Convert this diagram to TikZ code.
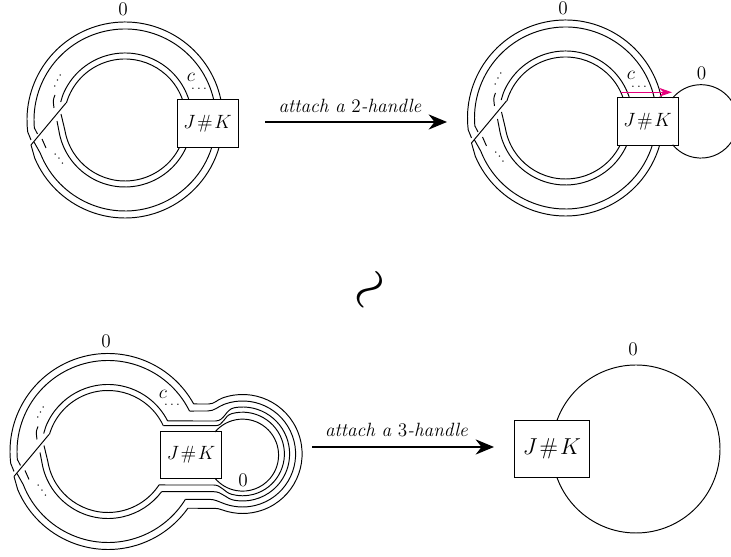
\documentclass[tikz,border=0pt]{standalone}
\usepackage{amsmath}
\usetikzlibrary{arrows.meta}

\tikzset{
  every node/.style={font=\large},
  jkbox/.style={draw,fill=white,inner sep=0pt,minimum width=38.1pt,minimum height=29.4pt},
  bigbox/.style={draw,fill=white,inner sep=0pt,minimum width=46.9pt,minimum height=35.6pt,font=\Large},
  move/.style={line width=.9pt,-{Stealth[length=11.5pt,width=9.5pt]}},
  tiny dots/.style={inner sep=0pt,font=\footnotesize}
}
\newcommand{\jk}{$J\mkern1.5mu\#\mkern1.5mu K$}

% the strands of the ring, seen from its centre
\newcommand{\ringstrands}[8]{
  \coordinate (u1) at (#1:98);
  \coordinate (u2) at (#2:91);
  \coordinate (u3) at (#3:67);
  \coordinate (u4) at (#4:61);
  \coordinate (cross1) at (-94,-25);
  \coordinate (cross2) at (-59,17);
  \draw (u1) arc[start angle=#1,end angle=187,radius=98] -- (-94,-20);
  \draw (u2) arc[start angle=#2,end angle=185,radius=91] -- (-87.5,-14);
  \draw (u3) arc[start angle=#3,end angle=158.1,radius=67] -- (-64.3,18);
  \draw (u4) arc[start angle=#4,end angle=163.8,radius=61];
  \draw (cross1) -- (203:98) arc[start angle=203,end angle=#5,radius=98] coordinate (l1);
  \draw (-91,-22) -- (201.3:91) arc[start angle=201.3,end angle=#6,radius=91] coordinate (l2);
  \draw (-68,-1) -- (192.9:67) arc[start angle=192.9,end angle=#7,radius=67] coordinate (l3);
  \draw (-64,6) -- (189.4:61) arc[start angle=189.4,end angle=#8,radius=61] coordinate (l4);
  \draw (cross1) -- (cross2);
  \draw (-70,25) .. controls (-72,20) .. (-71,12);
  \draw (-83,-19) -- (-79,-28);
  \node[tiny dots,rotate=63] (dotsu) at (-67.5,39) {$\ldots$};
  \node[tiny dots,rotate=-53] (dotsl) at (-66,-39) {$\ldots$};
}

\begin{document}
\begin{tikzpicture}
  [x=.625pt,y=.625pt,line width=.6pt]
  \clip (0,0) rectangle (731,557);

  % top left
  \begin{scope}[shift={(125,437)}]
    \ringstrands{11.8}{12.7}{17.4}{19.1}{344}{342.8}{336.3}{333.7}
  \end{scope}
  \node[jkbox] (boxa) at (207.5,433.5) {\jk};
  \node (c1) at (191,480) {$c$};
  \node[tiny dots] (dots1) at (199,468) {$\ldots$};
  \node (zero1) at (123,548) {$0$};

  % top right
  \begin{scope}[shift={(565.5,439)}]
    \ringstrands{11.8}{12.7}{17.4}{19.1}{344}{342.8}{336.3}{333.7}
  \end{scope}
  \node[jkbox] (boxb) at (647.5,435.5) {\jk};
  \draw (672.7,459) arc[start angle=140.4,end angle=-140.4,radius=36.7];
  \node (c2) at (631,482) {$c$};
  \node[tiny dots] (dots2) at (639,470) {$\ldots$};
  \node (zero2) at (563,549) {$0$};
  \node (zero3) at (701.5,484) {$0$};
  \coordinate (fra) at (621,464.7);
  \coordinate (frb) at (672,464.7);
  \draw[-{Stealth[length=8pt,width=5.5pt]},color={rgb,255:red,230;green,0;blue,125}] (fra) -- (frb);

  % bottom left
  \begin{scope}[shift={(108,105.5)}]
    \ringstrands{29}{26.4}{27.1}{25}{324.6}{328.3}{323.1}{326.7}
  \end{scope}
  \node[jkbox] (boxc) at (191,102) {\jk};
  \begin{scope}[shift={(242.6,103)}]
    \foreach \rr/\ang/\inn/\outt/\tx/\ty/\bx/\by/\n in {59.5/110/200/160/-34/50/-29/-54.3/1,
                                                         53/110/200/160/-35/43/-34/-45.3/2,
                                                         47/100/190/170/-27/33/-29/-37.7/3,
                                                         41.8/105/195/165/-27/28.3/-29/-31/4}
      \draw (u\n) -- (\tx,\ty) to[out=0,in=\inn] (\ang:\rr)
        arc[start angle=\ang,end angle=-\ang,radius=\rr] to[out=\outt,in=0] (\bx,\by) -- (l\n);
  \end{scope}
  \draw (215,125) arc[start angle=140,end angle=-140,radius=36];
  \node (c3) at (163,163) {$c$};
  \node[tiny dots] (dots3) at (172,152) {$\ldots$};
  \node (zero4) at (106,216) {$0$};
  \node (zero5) at (243,77) {$0$};

  % bottom right
  \node[circle,draw,minimum size=105pt,inner sep=0pt] (disc) at (636,108) {};
  \node[bigbox] (boxd) at (551.8,107.8) {\jk};
  \node (zero6) at (633,208) {$0$};

  % the moves
  \coordinate (ma) at (265,435);
  \coordinate (mb) at (447,435);
  \coordinate (mc) at (312,110);
  \coordinate (md) at (494,110);
  \draw[move] (ma) -- (mb);
  \draw[move] (mc) -- (md);
  \node (la) at (350,451) {\textit{attach a $2$-handle}};
  \node (lb) at (396.5,127) {\textit{attach a $3$-handle}};
  \node[rotate=52,scale=3.5,font=\normalsize] (sim) at (373,265) {$\sim$};
\end{tikzpicture}
\end{document}
